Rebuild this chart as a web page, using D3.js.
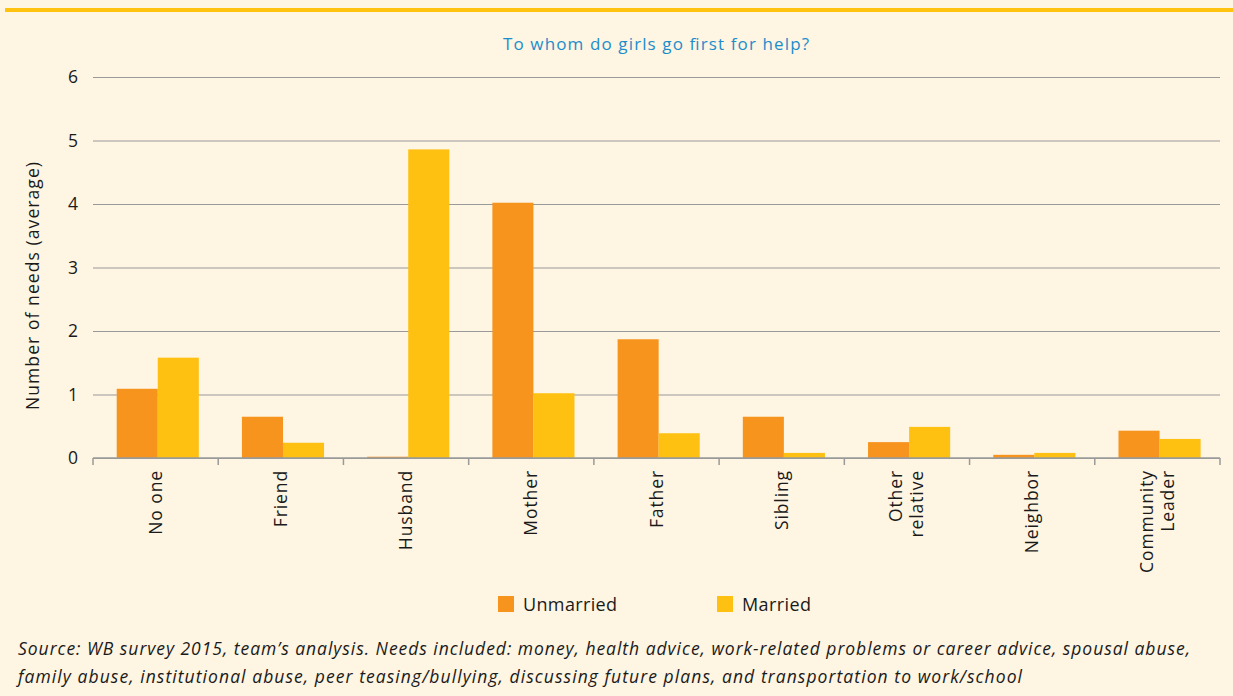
<!DOCTYPE html>
<html>
<head>
<meta charset="utf-8">
<script src="https://cdn.jsdelivr.net/npm/d3@7"></script>
<style>
  html, body { margin: 0; padding: 0; background: #FEF5E3; }
  svg { display: block; }
</style>
</head>
<body>
<svg id="chart" width="1233" height="696"></svg>
<script>
// Categories and series values (average number of needs)
const categories = ["No one", "Friend", "Husband", "Mother", "Father", "Sibling", "Other relative", "Neighbor", "Community Leader"];
const categoryLines = [["No one"], ["Friend"], ["Husband"], ["Mother"], ["Father"], ["Sibling"], ["Other", "relative"], ["Neighbor"], ["Community", "Leader"]];
const seriesNames = ["Unmarried", "Married"];
const unmarried = [1.09, 0.65, 0.02, 4.02, 1.87, 0.65, 0.25, 0.05, 0.43];
const married = [1.58, 0.24, 4.86, 1.02, 0.39, 0.08, 0.49, 0.08, 0.30];
const yTicks = [0, 1, 2, 3, 4, 5, 6];
const colors = ["#F7941E", "#FEC111"];

const font = "'Open Sans', 'Noto Sans', sans-serif";
const ink = "#1a1a1a";
const svg = d3.select("#chart");

// Top rule
svg.append("rect").attr("x", 5).attr("y", 8).attr("width", 1228).attr("height", 4).attr("fill", "#FFC20E");

const m = { left: 93, right: 1220, top: 77, bottom: 458 };

const x = d3.scaleBand().domain(categories).range([m.left, m.right]);
const inner = d3.scaleBand().domain(seriesNames).range([0, x.bandwidth()])
  .paddingInner(0).paddingOuter(0.525).align(0.55);
const y = d3.scaleLinear().domain([0, 6]).range([m.bottom, m.top]);

// Title
svg.append("text").attr("x", 656).attr("y", 50).attr("text-anchor", "middle")
  .attr("font-family", font).attr("font-size", 17).attr("fill", "#1C8DCB")
  .attr("textLength", 306).attr("lengthAdjust", "spacing")
  .text("To whom do girls go first for help?");

// Gridlines + y tick labels
const yAxis = svg.append("g").attr("transform", `translate(${m.left},0)`)
  .call(d3.axisLeft(y).tickValues(yTicks).tickSize(-(m.right - m.left)).tickPadding(15).tickFormat(d3.format("d")));
yAxis.select(".domain").remove();
yAxis.selectAll(".tick line").attr("stroke", "#9a9a9a").attr("stroke-width", 1.2);
yAxis.selectAll(".tick text").attr("font-family", font).attr("font-size", 17.5).attr("fill", ink);

// Y axis title
svg.append("text").attr("transform", `translate(39,286) rotate(-90)`)
  .attr("text-anchor", "middle").attr("font-family", font).attr("font-size", 17.5).attr("fill", ink)
  .attr("textLength", 248).attr("lengthAdjust", "spacing")
  .text("Number of needs (average)");

// Bars
const rows = categories.map((c, i) => ({ cat: c, vals: [unmarried[i], married[i]] }));
const groups = svg.append("g").selectAll("g").data(rows).join("g")
  .attr("transform", d => `translate(${x(d.cat)},0)`);
groups.selectAll("rect").data(d => d.vals.map((v, k) => ({ key: seriesNames[k], v, k })))
  .join("rect")
  .attr("x", d => inner(d.key))
  .attr("width", inner.bandwidth())
  .attr("y", d => y(d.v))
  .attr("height", d => y(0) - y(d.v))
  .attr("fill", d => colors[d.k]);

// X axis baseline with boundary ticks
const xAxisG = svg.append("g");
xAxisG.append("line").attr("x1", m.left).attr("x2", m.right).attr("y1", y(0)).attr("y2", y(0))
  .attr("stroke", "#9a9a9a").attr("stroke-width", 1.5);
const bounds = categories.map(c => x(c)).concat([m.right]);
xAxisG.selectAll("line.b").data(bounds).join("line").attr("class", "b")
  .attr("x1", d => d).attr("x2", d => d).attr("y1", y(0)).attr("y2", y(0) + 7)
  .attr("stroke", "#9a9a9a").attr("stroke-width", 1.5);

// Category labels, rotated
const lh = 21;
categoryLines.forEach((lines, i) => {
  const cx = x(categories[i]) + x.bandwidth() / 2;
  const n = lines.length;
  const t = svg.append("text")
    .attr("transform", `translate(${cx},${y(0) + 12}) rotate(-90)`)
    .attr("text-anchor", "end").attr("font-family", font).attr("font-size", 17.5)
    .attr("letter-spacing", 0.9).attr("fill", ink);
  lines.forEach((l, j) => {
    t.append("tspan").attr("x", 0).attr("y", 6 + (j - (n - 1) / 2) * lh).text(l);
  });
});

// Legend
const legend = [{ name: "Unmarried", x: 498, w: 94 }, { name: "Married", x: 717, w: 69 }];
legend.forEach((d, i) => {
  svg.append("rect").attr("x", d.x).attr("y", 596).attr("width", 16).attr("height", 16).attr("fill", colors[i]);
  svg.append("text").attr("x", d.x + 25).attr("y", 611).attr("font-family", font).attr("font-size", 18)
    .attr("textLength", d.w).attr("lengthAdjust", "spacing")
    .attr("fill", ink).text(d.name);
});

// Source note
const notes = [
  { s: "Source: WB survey 2015, team\u2019s analysis. Needs included: money, health advice, work-related problems or career advice, spousal abuse,", w: 1172 },
  { s: "family abuse, institutional abuse, peer teasing/bullying, discussing future plans, and transportation to work/school", w: 1004 }
];
notes.forEach((d, i) => {
  svg.append("text").attr("x", 18).attr("y", 655 + i * 28).attr("font-family", font).attr("font-style", "italic")
    .attr("font-size", 17.5).attr("fill", ink)
    .attr("textLength", d.w).attr("lengthAdjust", "spacing").text(d.s);
});
</script>
</body>
</html>
